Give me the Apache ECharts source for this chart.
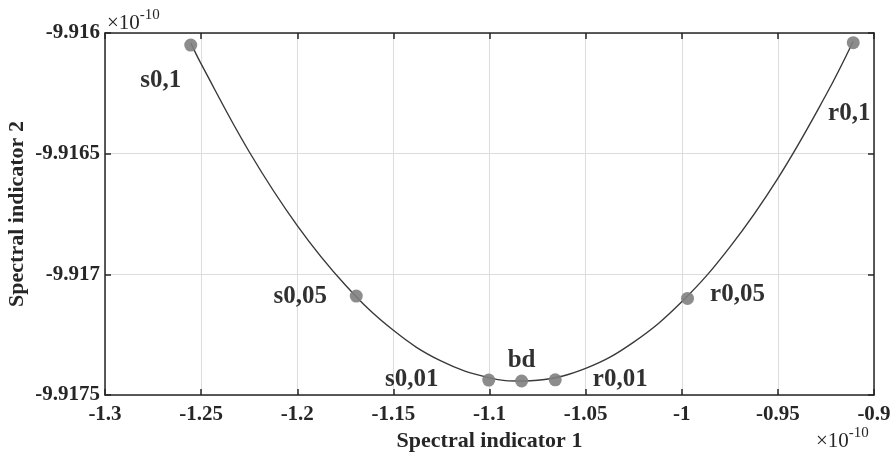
<!DOCTYPE html>
<html lang="en">
<head>
    <meta charset="UTF-8">
    <script type="text/javascript" src="https://cdn.jsdelivr.net/npm/echarts@6/dist/echarts.min.js"></script>
    <style>
        body { margin: 0; background: #fff; }
        #chart { width: 891px; height: 452px; }
    </style>
</head>
<body>
<div id="chart"></div>
<script type="text/javascript">
    // values in units of 1e-10
    var pointNames = ['s0,1', 's0,05', 's0,01', 'bd', 'r0,01', 'r0,05', 'r0,1'];
    var pointX = [-1.2554, -1.1693, -1.1004, -1.0833, -1.0658, -0.9970, -0.9108];
    var pointY = [-9.91605, -9.91709, -9.917438, -9.917442, -9.917437, -9.91710, -9.91604];
    // label offsets (px) from each marker
    var labelOffsets = [[-30, 35], [-56, 0], [-77, 0], [0, -20], [65, 0], [50, -4], [-4, 71]];

    // curve
    var curveX = [-1.2554, -1.25, -1.225, -1.2, -1.175, -1.15, -1.125, -1.1, -1.0833,
        -1.075, -1.05, -1.025, -1.0, -0.975, -0.95, -0.925, -0.9108];
    var curveY = [-9.916041, -9.916128, -9.916492, -9.916798, -9.917044, -9.917232, -9.917360,
        -9.917429, -9.917442, -9.917439, -9.917390, -9.917281, -9.917114, -9.916887,
        -9.916602, -9.916257, -9.916034];

    var font = 'Liberation Serif';
    var ink = '#262626';

    var curve = curveX.map(function (x, i) { return [x, curveY[i]]; });
    var points = pointX.map(function (x, i) {
        return {
            value: [x, pointY[i]],
            label: { offset: labelOffsets[i] },
            name: pointNames[i]
        };
    });

    var chart = echarts.init(document.getElementById('chart'));
    var boxAxis = {
        axisLine: { show: true, lineStyle: { color: ink, width: 1.5 } },
        axisTick: { show: true, inside: true, length: 6, lineStyle: { color: ink, width: 1.5 } },
        axisLabel: { show: false },
        splitLine: { show: false }
    };
    var exponent = {
        text: '{x|×10}{e|-10}', fill: ink,
        rich: {
            x: { fontFamily: font, fontSize: 21, fill: ink, verticalAlign: 'bottom', lineHeight: 26 },
            e: { fontFamily: font, fontSize: 15, fill: ink, verticalAlign: 'top', lineHeight: 26 }
        }
    };
    chart.setOption({
        animation: false,
        backgroundColor: '#fff',
        grid: { left: 105, right: 17, top: 33, bottom: 57, containLabel: false, outerBoundsMode: 'none' },
        xAxis: [{
            type: 'value', min: -1.3, max: -0.9, interval: 0.05,
            name: 'Spectral indicator 1', nameLocation: 'middle', nameGap: 34,
            nameTextStyle: { fontFamily: font, fontWeight: 'bold', fontSize: 22, color: ink },
            axisLine: { show: true, onZero: false, lineStyle: { color: ink, width: 1.5 } },
            axisTick: { show: true, inside: true, length: 6, lineStyle: { color: ink, width: 1.5 } },
            axisLabel: {
                margin: 9, fontFamily: font, fontWeight: 'bold', fontSize: 21, color: ink,
                formatter: function (v) { return String(+v.toFixed(2)); }
            },
            splitLine: { show: true, lineStyle: { color: '#dcdcdc', width: 1 } }
        }, Object.assign({
            type: 'value', position: 'top', min: -1.3, max: -0.9, interval: 0.05
        }, boxAxis)],
        yAxis: [{
            type: 'value', min: -9.9175, max: -9.916, interval: 0.0005,
            name: 'Spectral indicator 2', nameLocation: 'middle', nameGap: 77, nameRotate: 90,
            nameMoveOverlap: false,
            nameTextStyle: { fontFamily: font, fontWeight: 'bold', fontSize: 22, color: ink },
            axisLine: { show: true, onZero: false, lineStyle: { color: ink, width: 1.5 } },
            axisTick: { show: true, inside: true, length: 6, lineStyle: { color: ink, width: 1.5 } },
            axisLabel: {
                margin: 5, fontFamily: font, fontWeight: 'bold', fontSize: 21, color: ink,
                formatter: function (v) { return String(+v.toFixed(4)); }
            },
            splitLine: { show: true, lineStyle: { color: '#dcdcdc', width: 1 } }
        }, Object.assign({
            type: 'value', position: 'right', min: -9.9175, max: -9.916, interval: 0.0005
        }, boxAxis)],
        graphic: [{
            type: 'text', left: 107, top: 8, style: exponent
        }, {
            type: 'text', left: 816, top: 426, style: exponent
        }],
        series: [{
            type: 'line',
            data: curve,
            smooth: 0.4,
            showSymbol: false,
            lineStyle: { color: '#3a3a3a', width: 1.4 },
            z: 2
        }, {
            type: 'scatter',
            data: points,
            symbolSize: 13,
            itemStyle: { color: '#7f7f7f', opacity: 0.9 },
            label: {
                show: true, position: 'inside',
                formatter: function (p) { return p.name; },
                fontFamily: font, fontWeight: 'bold', fontSize: 25, color: '#1a1a1a',
                align: 'center', verticalAlign: 'middle'
            },
            z: 3
        }]
    });
</script>
</body>
</html>
